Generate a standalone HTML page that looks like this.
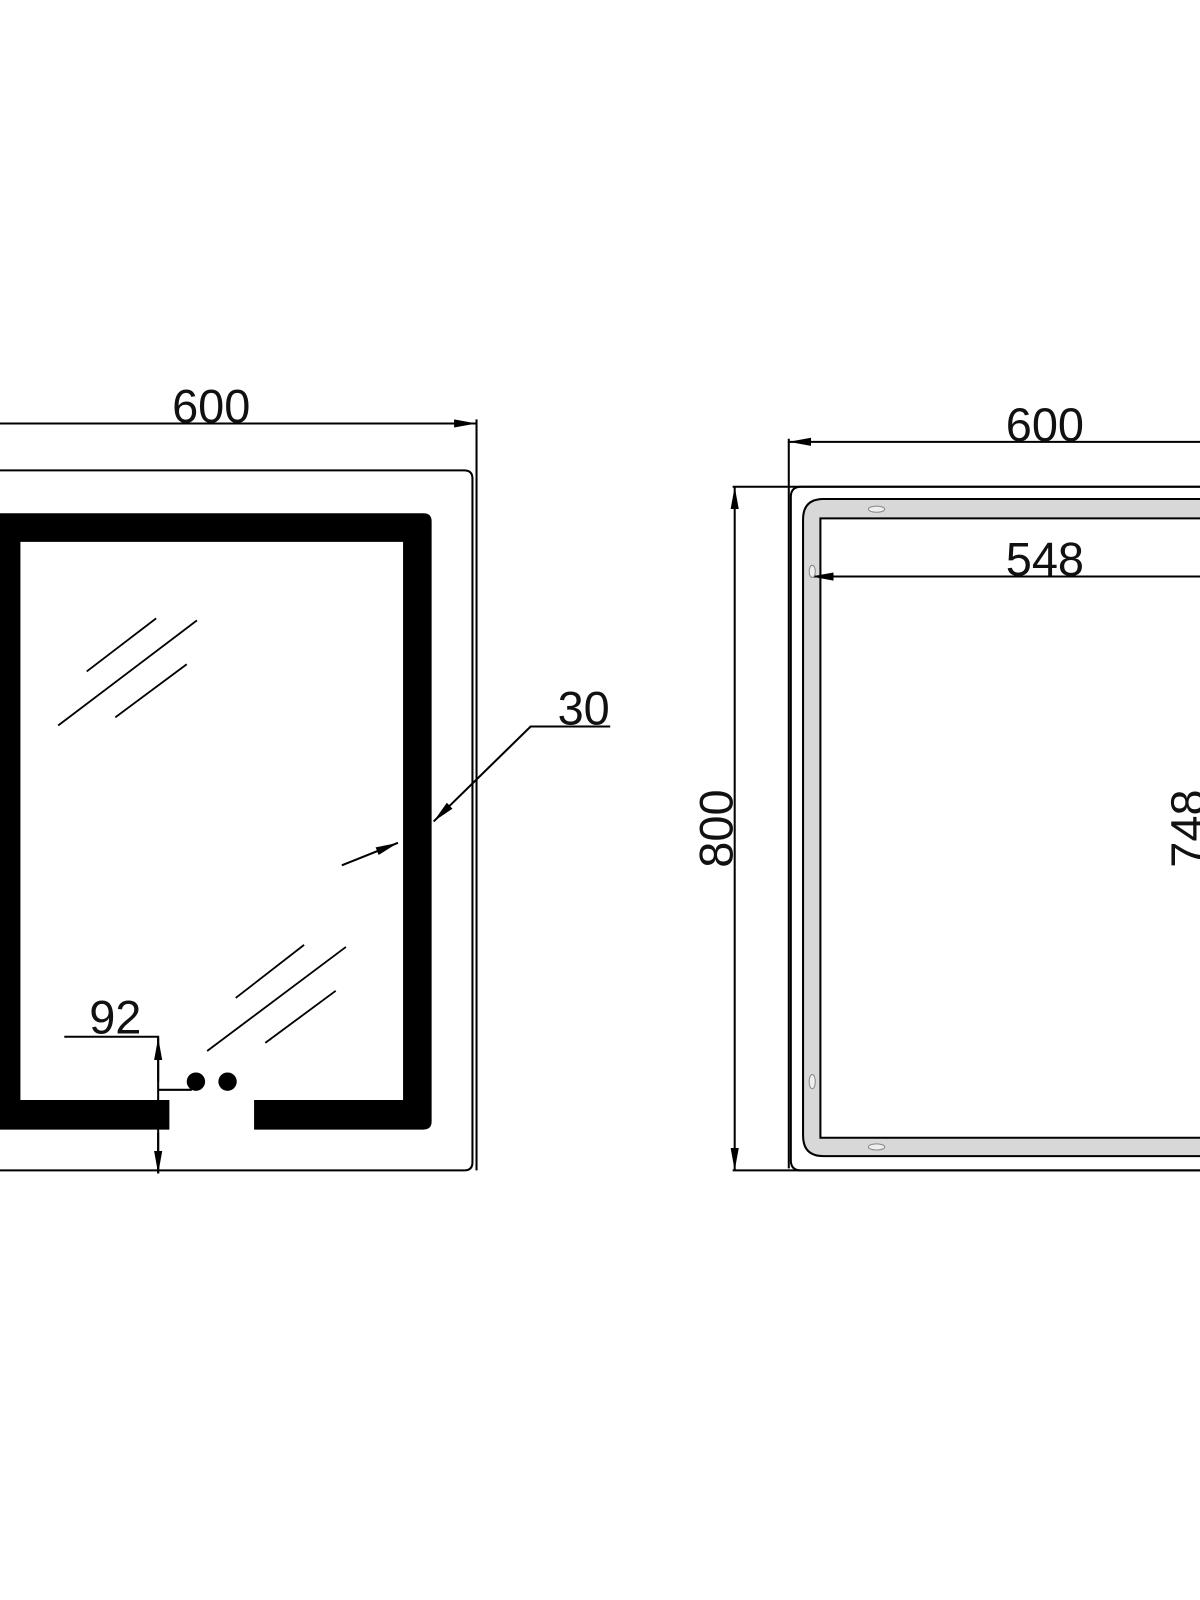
<!DOCTYPE html>
<html><head><meta charset="utf-8"><style>
html,body{margin:0;padding:0;background:#fff;overflow:hidden}
svg{display:block}
text{font-family:"Liberation Sans",Arial,sans-serif;fill:#111}
</style></head><body>
<svg width="1200" height="1600" viewBox="0 0 1176 1568" xmlns="http://www.w3.org/2000/svg">
<defs>
<marker id="a" viewBox="0 0 10 10" refX="10" refY="5" markerWidth="22" markerHeight="10" markerUnits="userSpaceOnUse" orient="auto-start-reverse" preserveAspectRatio="none"><path d="M0,1 L10,5 L0,9 z" fill="#000"/></marker>
</defs>
<g stroke="#000" fill="none" stroke-width="2">
<!-- LEFT VIEW -->
<line x1="0" y1="415" x2="467" y2="415" marker-end="url(#a)"/>
<line x1="467" y1="411" x2="467" y2="1147"/>
<path d="M0,461 H455 Q463,461 463,469 V1139 Q463,1147 455,1147 H0"/>
<path d="M-10,503 H415 Q423,503 423,511 V1099 Q423,1107 415,1107 H249 V1078 H395 V531 H20 V1078 H166 V1107 H-10 Z" fill="#000" stroke="none"/>
<g stroke-width="1.8">
<line x1="85" y1="658" x2="153" y2="606"/>
<line x1="57" y1="711" x2="193" y2="608"/>
<line x1="113" y1="703" x2="183" y2="651"/>
<line x1="231" y1="978" x2="298" y2="926"/>
<line x1="203" y1="1030" x2="339" y2="928"/>
<line x1="260" y1="1022" x2="329" y2="971"/>
</g>
<polyline points="598,712 520,712 425,805" marker-end="url(#a)"/>
<line x1="335" y1="848" x2="390" y2="826" marker-end="url(#a)"/>
<polyline points="63,1016 155,1016 155,1150"/>
<line x1="155" y1="1060" x2="155" y2="1017" marker-end="url(#a)"/>
<line x1="155" y1="1110" x2="155" y2="1150" marker-end="url(#a)"/>
<line x1="155" y1="1068" x2="188" y2="1068"/>
<!-- RIGHT VIEW -->
<line x1="1180" y1="433" x2="773" y2="433" marker-end="url(#a)"/>
<line x1="773" y1="430" x2="773" y2="1145"/>
<line x1="718" y1="477" x2="1180" y2="477"/>
<line x1="718" y1="1147" x2="1180" y2="1147"/>
<path d="M1180,477 H785 Q775,477 775,487 V1137 Q775,1147 785,1147 H1180"/>
<line x1="720" y1="477" x2="720" y2="1147" marker-start="url(#a)" marker-end="url(#a)"/>
<path d="M1180,489 H807 Q787,489 787,509 V1113 Q787,1133 807,1133 H1180 V1115 H804 V508 H1180 Z" fill="#d8d8d8" stroke="none"/>
<path d="M1180,489 H807 Q787,489 787,509 V1113 Q787,1133 807,1133 H1180"/>
<path d="M1180,508 H804 V1115 H1180"/>
<line x1="1180" y1="565" x2="795" y2="565" marker-end="url(#a)"/>
<g stroke="#888" stroke-width="1" fill="#eee">
<ellipse cx="859" cy="499" rx="8" ry="3"/><ellipse cx="859" cy="1124" rx="8" ry="3"/>
<ellipse cx="796" cy="560" rx="3" ry="6"/><ellipse cx="796" cy="1060" rx="3" ry="7"/>
</g>
</g>
<circle cx="192" cy="1060" r="9" fill="#000"/>
<circle cx="223" cy="1060" r="9" fill="#000"/>
<g font-size="46">
<text x="207" y="414" text-anchor="middle">600</text>
<text x="572" y="710" text-anchor="middle">30</text>
<text x="113" y="1013" text-anchor="middle">92</text>
<text x="1024" y="432" text-anchor="middle">600</text>
<text x="1024" y="564" text-anchor="middle">548</text>
<text transform="translate(718,812) rotate(-90)" text-anchor="middle">800</text>
<text transform="translate(1180,812) rotate(-90)" text-anchor="middle">748</text>
</g>
</svg>
</body></html>
